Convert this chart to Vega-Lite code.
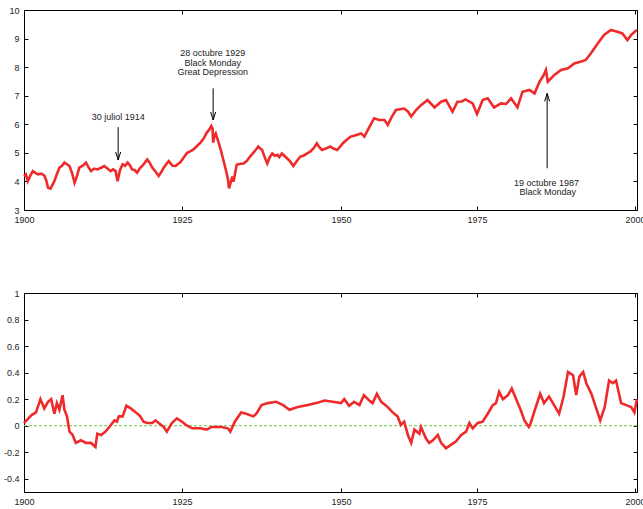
{
  "$schema": "https://vega.github.io/schema/vega-lite/v6.json",
  "autosize": {"type": "pad"},
  "padding": {"left": 2, "top": 5, "right": 0, "bottom": 0},
  "background": "white",
  "bounds": "flush",
  "spacing": 83,
  "config": {
    "view": {"stroke": "#000", "strokeWidth": 1},
    "font": "Liberation Sans",
    "axis": {
      "domainColor": "#000", "tickColor": "#000", "labelColor": "#222",
      "labelFont": "Liberation Sans", "labelFontSize": 9, "grid": false,
      "title": null, "tickSize": -4, "labelPadding": 9, "labelFlush": false
    }
  },
  "datasets": {
    "dj": [
      {"year":1900.0,"v":4.19},{"year":1900.3,"v":4.25},{"year":1900.6,"v":4.01},{"year":1901.0,"v":4.2},{"year":1901.4,"v":4.36},
      {"year":1901.8,"v":4.3},{"year":1902.2,"v":4.25},{"year":1902.7,"v":4.27},{"year":1903.2,"v":4.21},{"year":1903.5,"v":4.05},
      {"year":1903.8,"v":3.78},{"year":1904.2,"v":3.75},{"year":1904.8,"v":4.01},{"year":1905.2,"v":4.25},{"year":1905.6,"v":4.48},
      {"year":1906.0,"v":4.55},{"year":1906.4,"v":4.66},{"year":1906.8,"v":4.6},{"year":1907.2,"v":4.54},{"year":1907.6,"v":4.3},
      {"year":1908.0,"v":3.95},{"year":1908.4,"v":4.2},{"year":1908.75,"v":4.48},{"year":1909.3,"v":4.55},{"year":1909.8,"v":4.66},
      {"year":1910.2,"v":4.5},{"year":1910.6,"v":4.36},{"year":1911.1,"v":4.45},{"year":1911.6,"v":4.42},{"year":1912.2,"v":4.48},
      {"year":1912.7,"v":4.54},{"year":1913.2,"v":4.45},{"year":1913.7,"v":4.36},{"year":1914.1,"v":4.42},{"year":1914.5,"v":4.36},
      {"year":1914.8,"v":4.01},{"year":1915.2,"v":4.4},{"year":1915.6,"v":4.6},{"year":1916.0,"v":4.55},{"year":1916.4,"v":4.66},
      {"year":1916.8,"v":4.55},{"year":1917.1,"v":4.42},{"year":1917.5,"v":4.4},{"year":1917.9,"v":4.31},{"year":1918.3,"v":4.45},
      {"year":1918.7,"v":4.54},{"year":1919.1,"v":4.65},{"year":1919.5,"v":4.77},{"year":1919.9,"v":4.65},{"year":1920.3,"v":4.48},
      {"year":1920.8,"v":4.35},{"year":1921.3,"v":4.19},{"year":1921.7,"v":4.32},{"year":1922.1,"v":4.48},{"year":1922.5,"v":4.6},
      {"year":1922.9,"v":4.71},{"year":1923.5,"v":4.55},{"year":1924.0,"v":4.54},{"year":1924.4,"v":4.62},{"year":1924.7,"v":4.66},
      {"year":1925.3,"v":4.85},{"year":1925.8,"v":5.0},{"year":1926.3,"v":5.05},{"year":1926.8,"v":5.12},{"year":1927.4,"v":5.25},
      {"year":1927.9,"v":5.36},{"year":1928.4,"v":5.5},{"year":1928.9,"v":5.71},{"year":1929.3,"v":5.82},{"year":1929.6,"v":5.94},
      {"year":1929.8,"v":5.85},{"year":1929.9,"v":5.36},{"year":1930.1,"v":5.6},{"year":1930.3,"v":5.68},{"year":1930.7,"v":5.4},
      {"year":1931.1,"v":5.1},{"year":1931.5,"v":4.75},{"year":1931.9,"v":4.4},{"year":1932.2,"v":4.1},{"year":1932.4,"v":3.76},
      {"year":1932.7,"v":4.0},{"year":1932.9,"v":4.17},{"year":1933.1,"v":3.99},{"year":1933.4,"v":4.35},{"year":1933.6,"v":4.58},
      {"year":1934.2,"v":4.62},{"year":1934.7,"v":4.63},{"year":1935.2,"v":4.72},{"year":1935.7,"v":4.87},{"year":1936.4,"v":5.05},
      {"year":1937.0,"v":5.22},{"year":1937.3,"v":5.15},{"year":1937.6,"v":5.1},{"year":1938.0,"v":4.85},{"year":1938.4,"v":4.63},
      {"year":1938.8,"v":4.85},{"year":1939.2,"v":4.98},{"year":1939.6,"v":4.9},{"year":1940.0,"v":4.93},{"year":1940.3,"v":4.85},
      {"year":1940.7,"v":4.98},{"year":1941.1,"v":4.9},{"year":1941.5,"v":4.81},{"year":1942.0,"v":4.7},{"year":1942.5,"v":4.54},
      {"year":1943.0,"v":4.7},{"year":1943.6,"v":4.87},{"year":1944.1,"v":4.9},{"year":1944.7,"v":4.98},{"year":1945.2,"v":5.05},
      {"year":1945.7,"v":5.16},{"year":1946.2,"v":5.33},{"year":1946.6,"v":5.2},{"year":1947.0,"v":5.1},{"year":1947.6,"v":5.15},
      {"year":1948.3,"v":5.22},{"year":1948.8,"v":5.15},{"year":1949.4,"v":5.1},{"year":1950.0,"v":5.25},{"year":1950.3,"v":5.33},
      {"year":1951.0,"v":5.45},{"year":1951.8,"v":5.57},{"year":1952.7,"v":5.62},{"year":1953.7,"v":5.68},{"year":1954.3,"v":5.57},
      {"year":1955.2,"v":5.9},{"year":1956.1,"v":6.21},{"year":1957.0,"v":6.15},{"year":1958.0,"v":6.15},{"year":1958.6,"v":5.98},
      {"year":1959.3,"v":6.25},{"year":1960.1,"v":6.5},{"year":1961.6,"v":6.55},{"year":1962.3,"v":6.45},{"year":1962.9,"v":6.27},
      {"year":1963.8,"v":6.5},{"year":1964.7,"v":6.67},{"year":1965.9,"v":6.85},{"year":1967.2,"v":6.59},{"year":1968.4,"v":6.79},
      {"year":1969.3,"v":6.85},{"year":1970.5,"v":6.44},{"year":1971.4,"v":6.79},{"year":1972.2,"v":6.8},{"year":1972.9,"v":6.87},
      {"year":1974.2,"v":6.73},{"year":1975.0,"v":6.36},{"year":1975.9,"v":6.85},{"year":1976.7,"v":6.91},{"year":1977.7,"v":6.59},
      {"year":1978.8,"v":6.73},{"year":1979.6,"v":6.71},{"year":1980.4,"v":6.91},{"year":1981.4,"v":6.59},{"year":1982.2,"v":7.14},
      {"year":1983.3,"v":7.2},{"year":1984.1,"v":7.08},{"year":1984.9,"v":7.49},{"year":1985.5,"v":7.7},{"year":1985.9,"v":7.9},
      {"year":1986.2,"v":7.49},{"year":1987.2,"v":7.72},{"year":1988.3,"v":7.9},{"year":1989.4,"v":7.96},{"year":1990.4,"v":8.13},
      {"year":1991.5,"v":8.2},{"year":1992.2,"v":8.25},{"year":1993.0,"v":8.48},{"year":1994.1,"v":8.83},{"year":1995.1,"v":9.13},
      {"year":1996.2,"v":9.3},{"year":1997.2,"v":9.24},{"year":1998.0,"v":9.18},{"year":1998.8,"v":8.95},{"year":1999.4,"v":9.13},
      {"year":2000.0,"v":9.25},{"year":2000.3,"v":9.3}
    ],
    "resid": [
      {"year":1900.0,"v":0.02},{"year":1900.4,"v":0.04},{"year":1901.2,"v":0.08},{"year":1901.9,"v":0.1},{"year":1902.6,"v":0.2},
      {"year":1903.2,"v":0.13},{"year":1903.8,"v":0.18},{"year":1904.3,"v":0.2},{"year":1904.8,"v":0.09},{"year":1905.2,"v":0.17},
      {"year":1905.6,"v":0.12},{"year":1906.1,"v":0.23},{"year":1906.4,"v":0.12},{"year":1906.8,"v":0.07},{"year":1907.2,"v":-0.045},
      {"year":1907.7,"v":-0.07},{"year":1908.2,"v":-0.13},{"year":1909.0,"v":-0.11},{"year":1909.8,"v":-0.13},{"year":1910.6,"v":-0.13},
      {"year":1911.3,"v":-0.16},{"year":1911.6,"v":-0.06},{"year":1912.2,"v":-0.07},{"year":1912.9,"v":-0.045},{"year":1913.5,"v":-0.01},
      {"year":1914.3,"v":0.04},{"year":1914.7,"v":0.03},{"year":1915.0,"v":0.07},{"year":1915.6,"v":0.07},{"year":1916.2,"v":0.15},
      {"year":1916.9,"v":0.13},{"year":1917.7,"v":0.1},{"year":1918.4,"v":0.07},{"year":1918.9,"v":0.03},{"year":1919.5,"v":0.02},
      {"year":1920.3,"v":0.02},{"year":1920.8,"v":0.04},{"year":1921.3,"v":0.02},{"year":1922.1,"v":-0.01},{"year":1922.6,"v":-0.045},
      {"year":1923.4,"v":0.02},{"year":1924.2,"v":0.055},{"year":1925.0,"v":0.03},{"year":1925.8,"v":0.0},{"year":1926.6,"v":-0.02},
      {"year":1927.9,"v":-0.02},{"year":1928.9,"v":-0.03},{"year":1929.6,"v":-0.01},{"year":1931.2,"v":-0.01},{"year":1932.2,"v":-0.02},
      {"year":1932.6,"v":-0.045},{"year":1933.3,"v":0.03},{"year":1934.3,"v":0.1},{"year":1935.1,"v":0.09},{"year":1936.2,"v":0.07},
      {"year":1936.7,"v":0.09},{"year":1937.5,"v":0.155},{"year":1938.5,"v":0.17},{"year":1939.8,"v":0.18},{"year":1940.9,"v":0.155},
      {"year":1941.9,"v":0.12},{"year":1943.2,"v":0.14},{"year":1944.8,"v":0.155},{"year":1946.1,"v":0.17},{"year":1947.4,"v":0.19},
      {"year":1948.7,"v":0.18},{"year":1950.0,"v":0.17},{"year":1950.6,"v":0.2},{"year":1951.5,"v":0.15},{"year":1952.4,"v":0.18},
      {"year":1953.4,"v":0.155},{"year":1954.2,"v":0.23},{"year":1955.2,"v":0.19},{"year":1955.8,"v":0.17},{"year":1956.6,"v":0.24},
      {"year":1957.4,"v":0.18},{"year":1958.6,"v":0.14},{"year":1959.5,"v":0.1},{"year":1960.4,"v":0.07},{"year":1961.0,"v":0.005},
      {"year":1961.6,"v":0.03},{"year":1962.3,"v":-0.07},{"year":1962.9,"v":-0.13},{"year":1963.5,"v":-0.03},{"year":1964.4,"v":-0.06},
      {"year":1964.7,"v":-0.01},{"year":1965.6,"v":-0.095},{"year":1966.2,"v":-0.13},{"year":1966.9,"v":-0.11},{"year":1967.8,"v":-0.07},
      {"year":1968.4,"v":-0.13},{"year":1969.3,"v":-0.17},{"year":1970.2,"v":-0.145},{"year":1971.1,"v":-0.12},{"year":1972.1,"v":-0.07},
      {"year":1973.0,"v":-0.045},{"year":1973.6,"v":0.02},{"year":1974.2,"v":-0.02},{"year":1975.1,"v":0.02},{"year":1975.9,"v":0.03},
      {"year":1976.7,"v":0.09},{"year":1977.5,"v":0.155},{"year":1978.0,"v":0.17},{"year":1978.5,"v":0.255},{"year":1979.1,"v":0.2},
      {"year":1979.9,"v":0.23},{"year":1980.5,"v":0.28},{"year":1981.2,"v":0.2},{"year":1981.9,"v":0.12},{"year":1982.5,"v":0.04},
      {"year":1983.2,"v":-0.01},{"year":1983.5,"v":0.02},{"year":1984.3,"v":0.14},{"year":1985.0,"v":0.24},{"year":1985.6,"v":0.17},
      {"year":1986.4,"v":0.22},{"year":1987.2,"v":0.155},{"year":1988.0,"v":0.09},{"year":1988.7,"v":0.22},{"year":1989.4,"v":0.405},
      {"year":1990.2,"v":0.38},{"year":1990.7,"v":0.23},{"year":1991.2,"v":0.37},{"year":1991.8,"v":0.405},{"year":1992.3,"v":0.32},
      {"year":1993.1,"v":0.24},{"year":1993.8,"v":0.14},{"year":1994.5,"v":0.04},{"year":1995.2,"v":0.14},{"year":1995.9,"v":0.34},
      {"year":1996.5,"v":0.32},{"year":1997.0,"v":0.34},{"year":1997.8,"v":0.17},{"year":1998.6,"v":0.155},{"year":1999.4,"v":0.14},
      {"year":1999.9,"v":0.1},{"year":2000.3,"v":0.2}
    ],
    "arrows": [
      {"year":1914.9,"from":5.9,"to":4.75},
      {"year":1929.9,"from":7.26,"to":6.15},
      {"year":1986.1,"from":4.46,"to":7.08}
    ],
    "notes": [
      {"year":1914.9,"v":6.24,"text":"30 juliol 1914"},
      {"year":1929.85,"v":8.48,"text":"28 octubre 1929"},
      {"year":1929.85,"v":8.16,"text":"Black Monday"},
      {"year":1929.85,"v":7.84,"text":"Great Depression"},
      {"year":1986.0,"v":3.955,"text":"19 octubre 1987"},
      {"year":1986.2,"v":3.63,"text":"Black Monday"}
    ],
    "zero": [{"v":0,"start":1900,"end":2000.3}]
  },
  "vconcat": [
    {
      "width": 613,
      "height": 200,
      "resolve": {"axis": {"x": "independent", "y": "independent"}},
      "layer": [
        {
          "data": {"name": "dj"},
          "mark": {"type": "line", "color": "#ef2a2a", "strokeWidth": 2.6},
          "encoding": {
            "x": {"field": "year", "type": "quantitative",
                  "scale": {"domain": [1900,1925,1950,1975,2000], "range": [0,158,317,453,611], "nice": false, "zero": false},
                  "axis": {"orient": "bottom", "values": [1900,1925,1950,1975,2000], "format": "d"}},
            "y": {"field": "v", "type": "quantitative",
                  "scale": {"domain": [3,10], "nice": false, "zero": false},
                  "axis": {"orient": "left", "values": [3,4,5,6,7,8,9,10]}}
          }
        },
        {
          "data": {"name": "arrows"},
          "mark": {"type": "rule", "color": "#000", "strokeWidth": 1},
          "encoding": {
            "x": {"field": "year", "type": "quantitative",
                  "scale": {"domain": [1900,1925,1950,1975,2000], "range": [0,158,317,453,611], "nice": false, "zero": false},
                  "axis": {"orient": "top", "values": [1900,1925,1950,1975,2000], "labels": false}},
            "y": {"field": "from", "type": "quantitative",
                  "scale": {"domain": [3,10], "nice": false, "zero": false},
                  "axis": {"orient": "right", "values": [3,4,5,6,7,8,9,10], "labels": false}},
            "y2": {"field": "to"}
          }
        },
        {
          "data": {"name": "arrows"},
          "transform": [{"filter": "datum.to < datum.from"}],
          "mark": {"type": "point", "shape": "M -0.5 -1.6 L 0 0 L 0.5 -1.6", "filled": false, "stroke": "#000", "strokeWidth": 1, "size": 100, "opacity": 1},
          "encoding": {
            "x": {"field": "year", "type": "quantitative",
                  "scale": {"domain": [1900,1925,1950,1975,2000], "range": [0,158,317,453,611], "nice": false, "zero": false}, "axis": null},
            "y": {"field": "to", "type": "quantitative", "scale": {"domain": [3,10], "nice": false, "zero": false}, "axis": null}
          }
        },
        {
          "data": {"name": "arrows"},
          "transform": [{"filter": "datum.to > datum.from"}],
          "mark": {"type": "point", "shape": "M -0.5 1.6 L 0 0 L 0.5 1.6", "filled": false, "stroke": "#000", "strokeWidth": 1, "size": 100, "opacity": 1},
          "encoding": {
            "x": {"field": "year", "type": "quantitative",
                  "scale": {"domain": [1900,1925,1950,1975,2000], "range": [0,158,317,453,611], "nice": false, "zero": false}, "axis": null},
            "y": {"field": "to", "type": "quantitative", "scale": {"domain": [3,10], "nice": false, "zero": false}, "axis": null}
          }
        },
        {
          "data": {"name": "notes"},
          "mark": {"type": "text", "font": "Liberation Sans", "fontSize": 9, "color": "#222", "align": "center", "baseline": "middle"},
          "encoding": {
            "x": {"field": "year", "type": "quantitative",
                  "scale": {"domain": [1900,1925,1950,1975,2000], "range": [0,158,317,453,611], "nice": false, "zero": false}, "axis": null},
            "y": {"field": "v", "type": "quantitative", "scale": {"domain": [3,10], "nice": false, "zero": false}, "axis": null},
            "text": {"field": "text"}
          }
        }
      ]
    },
    {
      "width": 613,
      "height": 199,
      "resolve": {"axis": {"x": "independent", "y": "independent"}},
      "layer": [
        {
          "data": {"name": "zero"},
          "mark": {"type": "rule", "color": "#8ed26a", "strokeWidth": 1.3, "strokeDash": [3, 2]},
          "encoding": {
            "x": {"field": "start", "type": "quantitative",
                  "scale": {"domain": [1900,1925,1950,1975,2000], "range": [0,158,317,453,611], "nice": false, "zero": false},
                  "axis": {"orient": "top", "values": [1900,1925,1950,1975,2000], "labels": false}},
            "x2": {"field": "end"},
            "y": {"field": "v", "type": "quantitative",
                  "scale": {"domain": [-0.5, 1], "nice": false, "zero": false},
                  "axis": {"orient": "right", "values": [-0.4,-0.2,0,0.2,0.4,0.6,0.8,1], "labels": false}}
          }
        },
        {
          "data": {"name": "resid"},
          "mark": {"type": "line", "color": "#ef2a2a", "strokeWidth": 2.6},
          "encoding": {
            "x": {"field": "year", "type": "quantitative",
                  "scale": {"domain": [1900,1925,1950,1975,2000], "range": [0,158,317,453,611], "nice": false, "zero": false},
                  "axis": {"orient": "bottom", "values": [1900,1925,1950,1975,2000], "format": "d"}},
            "y": {"field": "v", "type": "quantitative",
                  "scale": {"domain": [-0.5, 1], "nice": false, "zero": false},
                  "axis": {"orient": "left", "values": [-0.4,-0.2,0,0.2,0.4,0.6,0.8,1],
                           "labelExpr": "datum.value < 0 ? '-' + format(-datum.value, '~g') : format(datum.value, '~g')"}}
          }
        }
      ]
    }
  ]
}
